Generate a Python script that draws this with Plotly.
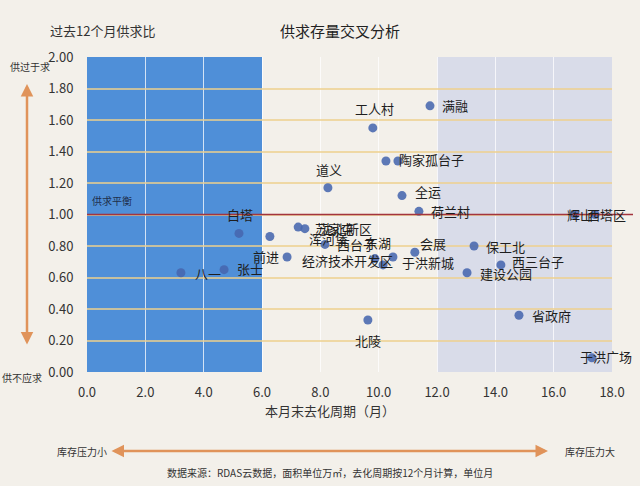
import plotly.graph_objects as go

# ---- data ----
names = ["八一", "张士", "白塔", "浑河堡", "苏家屯", "沈北新区", "前进", "西台子", "东湖",
         "经济技术开发区", "于洪新城", "会展", "道义", "工人村", "满融", "陶家", "孤台子",
         "全运", "荷兰村", "辉山", "西塔区", "保工北", "建设公园", "西三台子", "省政府",
         "北陵", "于洪广场"]
cycle = [3.22, 4.70, 5.21, 6.27, 7.24, 7.47, 6.86, 8.16, 9.87,
         10.15, 10.49, 11.24, 8.26, 9.80, 11.76, 10.25, 10.66,
         10.80, 11.38, 16.73, 17.42, 13.27, 13.03, 14.19, 14.81,
         9.63, 17.31]
ratio = [0.63, 0.65, 0.88, 0.86, 0.92, 0.91, 0.73, 0.81, 0.72,
         0.68, 0.73, 0.76, 1.17, 1.55, 1.69, 1.34, 1.34,
         1.12, 1.02, 1.00, 1.00, 0.80, 0.63, 0.68, 0.36,
         0.33, 0.09]
x_ticks = [0, 2, 4, 6, 8, 10, 12, 14, 16, 18]
y_ticks = [0, 0.2, 0.4, 0.6, 0.8, 1.0, 1.2, 1.4, 1.6, 1.8, 2.0]

# label placement (style): (xanchor, xshift px, yshift px)
label_pos = [("left", 12, -1), ("left", 11, 1), ("center", 1, 19), ("left", 37, -2),
             ("left", 15, -1), ("left", 13, 0), ("right", -6, 1), ("left", 10, 0),
             ("center", 3, 16), ("center", -36, 4), ("left", 7, -5), ("left", 3, 9),
             ("center", 1, 18), ("center", 2, 19), ("left", 10, 0), ("left", 11, 1),
             ("left", 25, 1), ("left", 11, 4), ("left", 10, 0), ("left", -10, 0),
             ("left", -10, 0), ("left", 10, 0), ("left", 11, -1), ("left", 9, 3),
             ("left", 11, 0), ("center", 0, -20), ("center", 14, 1)]

FONT = "Noto Sans CJK SC"
fig = go.Figure()
fig.add_trace(go.Scatter(
    x=cycle, y=ratio, mode="markers",
    marker=dict(size=9, color="#4767ae", opacity=0.88),
    hoverinfo="text", text=names, showlegend=False))

annotations = []
for n, xv, yv, (anc, dx, dy) in zip(names, cycle, ratio, label_pos):
    annotations.append(dict(x=xv, y=yv, xref="x", yref="y", text=n, showarrow=False,
                            xanchor=anc, yanchor="middle", xshift=dx, yshift=dy,
                            font=dict(size=13, color="#1e1e1e", family=FONT)))

L, R, T, B = 87, 612, 57, 372
W, H = R - L, B - T
def px(xp):
    return (xp - L) / W
def py(yp):
    return (B - yp) / H

def txt(s, xp, yp, size=10, anchor="center", color="#333333"):
    annotations.append(dict(x=px(xp), y=py(yp), xref="paper", yref="paper", text=s,
                            showarrow=False, xanchor=anchor, yanchor="middle",
                            font=dict(size=size, color=color, family=FONT)))

txt("供求存量交叉分析", 340, 30, size=15, color="#222222")
txt("过去12个月供求比", 48, 30, size=13, anchor="left", color="#333333")
txt("供过于求", 30, 66, size=10)
txt("供不应求", 22, 377, size=10)
txt("供求平衡", 112, 200, size=10, color="#1e2d4a")
txt("本月末去化周期（月）", 330, 410, size=13, color="#333333")
txt("库存压力小", 82, 451, size=10)
txt("库存压力大", 590, 451, size=10)
txt("数据来源：RDAS云数据，面积单位万㎡，去化周期按12个月计算，单位月", 330, 472, size=10)

# arrows
annotations.append(dict(x=px(27), y=py(84), xref="paper", yref="paper", ax=0, ay=262,
                        showarrow=True, arrowhead=2, arrowside="end+start", arrowsize=1,
                        arrowwidth=2.5, arrowcolor="#e0935a", text=""))
annotations.append(dict(x=px(548), y=py(451), xref="paper", yref="paper", ax=-438, ay=0,
                        showarrow=True, arrowhead=2, arrowside="end+start", arrowsize=1,
                        arrowwidth=2.5, arrowcolor="#e0935a", text=""))

shapes = [
    dict(type="rect", xref="x", yref="y", x0=0, x1=6, y0=0, y1=2,
         fillcolor="#4f8fd8", line=dict(width=0), layer="below"),
    dict(type="rect", xref="x", yref="y", x0=12, x1=18, y0=0, y1=2,
         fillcolor="#d9dce9", line=dict(width=0), layer="below"),
    dict(type="line", xref="paper", yref="y", x0=0, x1=px(633), y0=1, y1=1,
         line=dict(color="#a3343f", width=1.5), layer="above"),
]

fig.update_layout(
    width=640, height=486,
    margin=dict(l=L, r=640 - R, t=T, b=486 - B),
    paper_bgcolor="#f3f0ea", plot_bgcolor="#f3f0ea",
    font=dict(family=FONT, size=13, color="#333333"),
    annotations=annotations, shapes=shapes, showlegend=False,
)
fig.update_xaxes(range=[0, 18], tickvals=x_ticks, tickformat=".1f",
                 showgrid=True, gridcolor="rgba(255,255,255,0.75)", gridwidth=1,
                 zeroline=False, showline=False, ticks="outside", ticklen=8,
                 tickcolor="rgba(0,0,0,0)", tickfont=dict(size=13, color="#333333"))
fig.update_yaxes(range=[0, 2], tickvals=y_ticks, tickformat=".2f",
                 showgrid=True, gridcolor="rgba(238,208,140,0.75)", gridwidth=1.5,
                 zeroline=False, showline=False, ticks="outside", ticklen=10,
                 tickcolor="rgba(0,0,0,0)", tickfont=dict(size=13, color="#333333"))

fig.write_html("out.html")
